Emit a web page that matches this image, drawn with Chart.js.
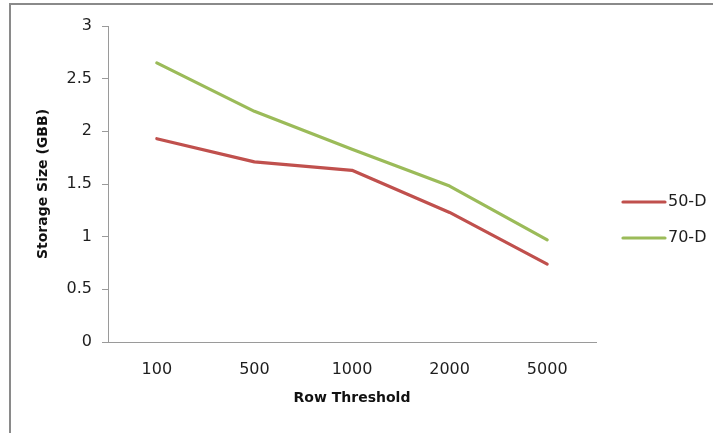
<!DOCTYPE html>
<html>
<head>
<meta charset="utf-8">
<script src="https://cdn.jsdelivr.net/npm/chart.js@4"></script>
<style>
  html, body { margin: 0; padding: 0; background: #fff; }
  #wrap { position: relative; width: 713px; height: 433px; overflow: hidden; }
  #frame { position: absolute; left: 9px; top: 3px; width: 800px; height: 500px;
           border-top: 2px solid #8a8a8a; border-left: 2px solid #8a8a8a; }
  canvas { position: absolute; left: 0; top: 0; }
</style>
</head>
<body>
<div id="wrap">
  <div id="frame"></div>
  <canvas id="c" width="713" height="433"></canvas>
</div>
<script>
// Row thresholds on the x axis
const thresholds = ['100', '500', '1000', '2000', '5000'];
// Storage size (GBB) per threshold
const size50D = [1.93, 1.71, 1.63, 1.23, 0.74];
const size70D = [2.65, 2.19, 1.83, 1.48, 0.97];
// Value axis ticks
const yTicks = [0, 0.5, 1, 1.5, 2, 2.5, 3];

const FONT = 'DejaVu Sans';
const AXIS_GREY = '#9a9a9a';
const TEXT = '#1e1e1e';

// Legend drawn to the right of the plot: short line + series name
const sideLegend = {
  id: 'sideLegend',
  afterDraw(chart) {
    const { ctx, chartArea } = chart;
    const mid = (chartArea.top + chartArea.bottom) / 2;
    const x0 = chartArea.right + 27;
    ctx.save();
    chart.data.datasets.forEach((ds, i) => {
      const y = mid + 18 + i * 36;
      ctx.strokeStyle = ds.borderColor;
      ctx.lineWidth = 3.2;
      ctx.lineCap = 'round';
      ctx.beginPath();
      ctx.moveTo(x0, y);
      ctx.lineTo(x0 + 42, y);
      ctx.stroke();
      ctx.fillStyle = TEXT;
      ctx.font = '16px ' + FONT;
      ctx.textBaseline = 'middle';
      ctx.textAlign = 'left';
      ctx.fillText(ds.label, x0 + 45, y);
    });
    ctx.restore();
  }
};

new Chart(document.getElementById('c'), {
  type: 'line',
  data: {
    labels: thresholds,
    datasets: [
      { label: '50-D', data: size50D, borderColor: '#C0504D', backgroundColor: '#C0504D',
        borderWidth: 3.2, pointRadius: 0, tension: 0, borderCapStyle: 'round', borderJoinStyle: 'round' },
      { label: '70-D', data: size70D, borderColor: '#9BBB59', backgroundColor: '#9BBB59',
        borderWidth: 3.2, pointRadius: 0, tension: 0, borderCapStyle: 'round', borderJoinStyle: 'round' }
    ]
  },
  options: {
    responsive: false,
    animation: false,
    devicePixelRatio: 1,
    layout: { padding: { left: 0, top: 26, right: 117, bottom: 0 } },
    plugins: { legend: { display: false }, tooltip: { enabled: false } },
    scales: {
      x: {
        offset: true,
        grid: { display: true, drawOnChartArea: false, drawTicks: false },
        border: { display: true, color: AXIS_GREY, width: 1 },
        ticks: { color: TEXT, padding: 18, font: { family: FONT, size: 16 }, maxRotation: 0 },
        title: { display: true, text: 'Row Threshold', color: '#111',
                 font: { family: FONT, size: 14, weight: 'bold' }, padding: { top: 0, bottom: 26 } },
        afterFit(scale) { scale.height = 91; }
      },
      y: {
        min: 0, max: 3,
        afterBuildTicks(scale) { scale.ticks = yTicks.map(v => ({ value: v })); },
        grid: { display: true, drawOnChartArea: false, drawTicks: true, tickLength: 6, color: AXIS_GREY },
        border: { display: true, color: AXIS_GREY, width: 1 },
        ticks: { color: TEXT, padding: 10, font: { family: FONT, size: 16 },
                 callback: v => String(v) },
        title: { display: true, text: 'Storage Size (GBB)', color: '#111',
                 font: { family: FONT, size: 14, weight: 'bold' }, padding: { top: 35, bottom: 0 } },
        afterFit(scale) { scale.width = 108; }
      }
    }
  },
  plugins: [sideLegend]
});
</script>
</body>
</html>
